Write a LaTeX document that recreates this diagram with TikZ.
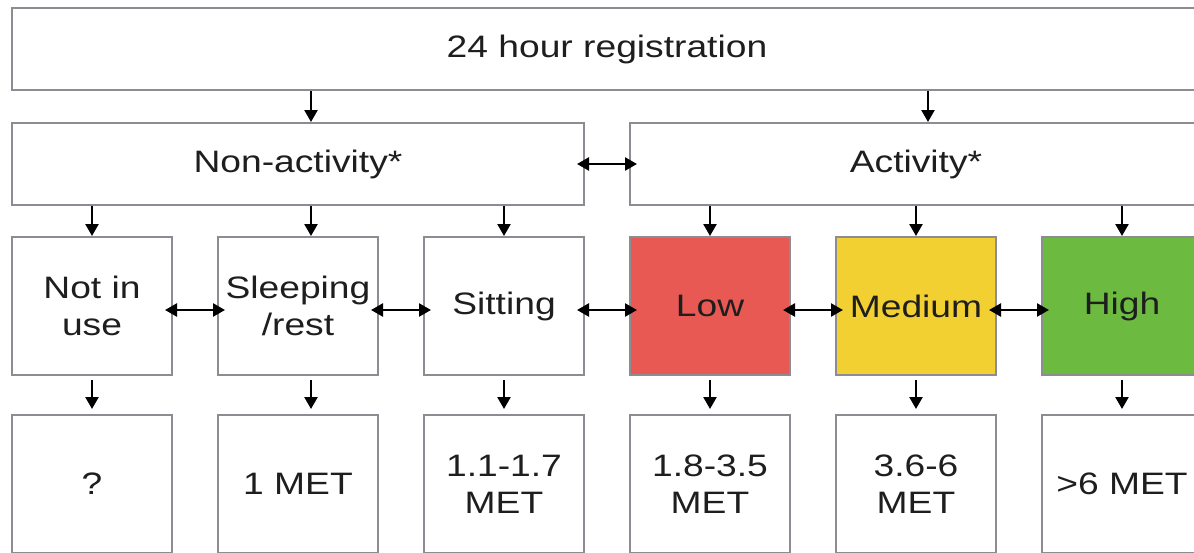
\documentclass[tikz,border=0pt]{standalone}
\usepackage{fontspec}
\newfontfamily\diagfont{Liberation Sans}[FakeStretch = 1.2]
\usepackage{tikz}
\usetikzlibrary{positioning, arrows.meta}
\definecolor{boxgray}{RGB}{140, 140, 146}
\definecolor{textdark}{RGB}{30, 30, 30}
\definecolor{lowred}{RGB}{232, 89, 83}
\definecolor{medyellow}{RGB}{242, 208, 50}
\definecolor{highgreen}{RGB}{108, 187, 64}

\begin{document}
\begin{tikzpicture}[x = 1pt, y = -1pt, > = {Triangle[length = 12pt, width = 13pt]}, node distance = 44pt, line width = 2.4pt,
  box/.style = {draw = boxgray, line width = 2pt, inner sep = 0pt, align = center, text = textdark, font = {\diagfont\fontsize{31pt}{37pt}\selectfont}},
  wide/.style = {box, minimum width = 572pt, minimum height = 82pt},
  level/.style = {box, minimum width = 160pt, minimum height = 138pt},
  link/.style = {<->, shorten <= -8pt, shorten >= -8pt}]
  \useasboundingbox (0, 0) rectangle (1194, 552);

  % nodes
  \node [box, minimum width = 1190pt, minimum height = 82pt] (registration) at (607, 49) {24 hour registration};
  \node [wide] (non-activity) at (298, 164) {Non-activity*};
  \node [wide] [right = of non-activity] (activity) {Activity*};

  \node [level] (not-in-use) at (92, 306) {Not in\\use};
  \node [level] [right = of not-in-use] (sleeping) {Sleeping\\/rest};
  \node [level] [right = of sleeping] (sitting) {Sitting};
  \node [level, fill = lowred] [right = of sitting] (low) {Low};
  \node [level, fill = medyellow] [right = of low] (medium) {Medium};
  \node [level, fill = highgreen] [right = of medium] (high) {High};

  \node [level] [below = 38pt of not-in-use] (met-unknown) {?};
  \node [level] [below = 38pt of sleeping] (met-sleeping) {1 MET};
  \node [level] [below = 38pt of sitting] (met-sitting) {1.1-1.7\\MET};
  \node [level] [below = 38pt of low] (met-low) {1.8-3.5\\MET};
  \node [level] [below = 38pt of medium] (met-medium) {3.6-6\\MET};
  \node [level] [below = 38pt of high] (met-high) {>6 MET};

  % edges
  \draw [->] ([xshift = 13pt] non-activity.north |- registration.south) -- ([xshift = 13pt] non-activity.north);
  \draw [->] ([xshift = 12pt] activity.north |- registration.south) -- ([xshift = 12pt] activity.north);
  \draw [link] (non-activity) -- (activity);

  \draw [->] (not-in-use.north |- non-activity.south) -- (not-in-use.north);
  \draw [->] ([xshift = 13pt] sleeping.north |- non-activity.south) -- ([xshift = 13pt] sleeping.north);
  \draw [->] (sitting.north |- non-activity.south) -- (sitting.north);
  \draw [->] (low.north |- activity.south) -- (low.north);
  \draw [->] (medium.north |- activity.south) -- (medium.north);
  \draw [->] (high.north |- activity.south) -- (high.north);

  \draw [link] ([yshift = -4pt] not-in-use.east) -- ([yshift = -4pt] sleeping.west);
  \draw [link] ([yshift = -4pt] sleeping.east) -- ([yshift = -4pt] sitting.west);
  \draw [link] ([yshift = -4pt] sitting.east) -- ([yshift = -4pt] low.west);
  \draw [link] ([yshift = -4pt] low.east) -- ([yshift = -4pt] medium.west);
  \draw [link] ([yshift = -4pt] medium.east) -- ([yshift = -4pt] high.west);

  \draw [->, shorten <= 4pt, shorten >= 5pt] (not-in-use) -- (met-unknown);
  \draw [->, shorten <= 4pt, shorten >= 5pt] ([xshift = 13pt] sleeping.south) -- ([xshift = 13pt] met-sleeping.north);
  \draw [->, shorten <= 4pt, shorten >= 5pt] (sitting) -- (met-sitting);
  \draw [->, shorten <= 4pt, shorten >= 5pt] (low) -- (met-low);
  \draw [->, shorten <= 4pt, shorten >= 5pt] (medium) -- (met-medium);
  \draw [->, shorten <= 4pt, shorten >= 5pt] (high) -- (met-high);

\end{tikzpicture}
\end{document}
